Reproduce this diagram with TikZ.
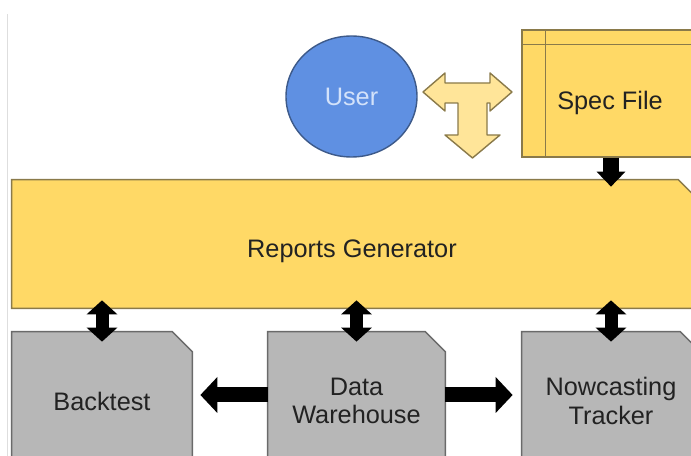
\documentclass[tikz,border=0pt]{standalone}
\usepackage{fontspec}
\setmainfont{Liberation Sans}
\usetikzlibrary{arrows.meta, positioning, calc, shapes, backgrounds}

\definecolor{boxyellow}{HTML}{FFD966}
\definecolor{arrowyellow}{HTML}{FFE599}
\definecolor{edgeyellow}{HTML}{8A7A4A}
\definecolor{userblue}{HTML}{5F90E2}
\definecolor{edgeblue}{HTML}{3D5A8A}
\definecolor{usertext}{HTML}{D3E2FA}
\definecolor{boxgrey}{HTML}{B7B7B7}
\definecolor{edgegrey}{HTML}{6A6A6A}
\definecolor{textdark}{HTML}{222222}

\begin{document}
\begin{tikzpicture}[
  font=\fontsize{14.4}{16}\selectfont,
  every node/.style={text=textdark, align=center, inner sep=0pt},
  greybox/.style={minimum width=3.56cm, minimum height=2.76cm},
  fatarrow/.style={line width=0.3cm, -{Triangle[width=0.7cm,length=0.34cm]}},
  downarrow/.style={line width=0.32cm, -{Triangle[width=0.56cm,length=0.3cm]}},
  updown/.style={line width=0.26cm, {Triangle[width=0.6cm,length=0.28cm]}-{Triangle[width=0.6cm,length=0.28cm]}, shorten <=-0.2cm, shorten >=-0.16cm}
]
  \useasboundingbox (0,0) rectangle (13.82,9.12);
  \clip (0,0) rectangle (13.82,9.12);
  \draw[color=black!13] (0.14,0) -- (0.14,8.84);

  % top row
  \node[ellipse, draw=edgeblue, fill=userblue, line width=0.8pt, minimum width=2.62cm, minimum height=2.42cm, text=usertext] (user) at (7.03,7.19) {User};
  \node[draw=edgeyellow, fill=boxyellow, line width=0.8pt, minimum width=3.56cm, minimum height=2.54cm] (spec) at (12.22,7.25) {};
  \draw[color=edgeyellow, line width=0.8pt] ($(spec.north west)+(0,-0.3)$) -- ($(spec.north east)+(0,-0.3)$);
  \draw[color=edgeyellow, line width=0.8pt] ($(spec.north west)+(0.48,0)$) -- ($(spec.south west)+(0.48,0)$);
  \node (spectext) at (12.2,7.06) {Spec File};
  \draw[fill=arrowyellow, draw=edgeyellow, line width=0.8pt, line join=round]
    (8.46,7.28) -- (8.90,7.66) -- (8.90,7.46) -- (9.80,7.46) -- (9.80,7.66) -- (10.24,7.28)
    -- (9.80,6.90) -- (9.80,7.06) -- (9.74,7.06) -- (9.74,6.42) -- (10.00,6.42) -- (9.45,5.96)
    -- (8.90,6.42) -- (9.16,6.42) -- (9.16,7.06) -- (8.90,7.06) -- (8.90,6.90) -- cycle;

  % generator and bottom row
  \node[minimum width=13.72cm, minimum height=2.56cm] (rg) at (7.1,4.24) {};
  \node (rgtext) at (7.04,4.1) {Reports Generator};
  \node[greybox, minimum width=3.6cm] (bt) at (2.04,1.1) {Backtest};
  \node[greybox, minimum width=3.54cm] (dw) at (7.13,1.1) {Data\\Warehouse};
  \node[greybox] (nt) at (12.22,1.1) {Nowcasting\\Tracker};

  \begin{scope}[on background layer]
    \clip (0,0) rectangle (13.82,9.12);
    \foreach \b/\f/\e in {rg/boxyellow/edgeyellow, bt/boxgrey/edgegrey, dw/boxgrey/edgegrey, nt/boxgrey/edgegrey}
      \draw[fill=\f, draw=\e, line width=0.8pt] (\b.south west) -- (\b.north west) -- ($(\b.north east)+(-0.4,0)$) -- ($(\b.north east)+(0,-0.4)$) -- (\b.south east) -- cycle;
  \end{scope}

  \draw[downarrow, shorten >=-0.14cm] (spec.south) -- (spec.south |- rg.north);
  \draw[updown] (bt.north) -- (bt.north |- rg.south);
  \draw[updown] (dw.north) -- (dw.north |- rg.south);
  \draw[updown] (nt.north) -- (nt.north |- rg.south);
  \draw[fatarrow, shorten >=0.16cm] ([yshift=0.12cm]dw.west) -- ([yshift=0.12cm]bt.east);
  \draw[fatarrow, shorten >=0.18cm] ([yshift=0.12cm]dw.east) -- ([yshift=0.12cm]nt.west);
\end{tikzpicture}
\end{document}
